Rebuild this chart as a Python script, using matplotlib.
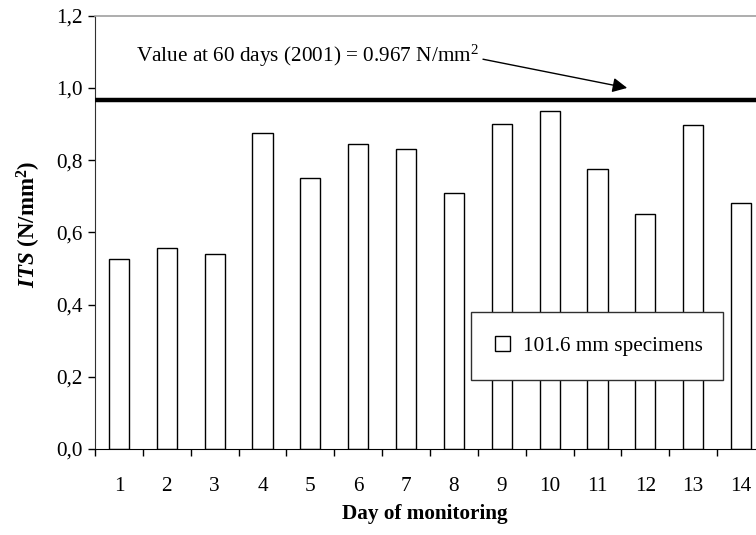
import numpy as np
import matplotlib
matplotlib.use('Agg')
import matplotlib.pyplot as plt

#
# data
#
days = ['1', '2', '3', '4', '5', '6', '7', '8', '9', '10', '11', '12', '13', '14']
its_values = [0.525, 0.556, 0.54, 0.875, 0.75, 0.845, 0.83, 0.71, 0.90, 0.935, 0.775, 0.65, 0.896, 0.68]
ref_value = 0.967  # value at 60 days (2001), N/mm2
series_label = '101.6 mm specimens'
y_ticks = [0.0, 0.2, 0.4, 0.6, 0.8, 1.0, 1.2]

#
# fonts
#
plt.rcParams['font.family'] = ['Liberation Serif', 'DejaVu Serif']
plt.rcParams['mathtext.fontset'] = 'custom'
plt.rcParams['mathtext.rm'] = 'Liberation Serif'
plt.rcParams['mathtext.it'] = 'Liberation Serif:italic:bold'
plt.rcParams['mathtext.bf'] = 'Liberation Serif:bold'
fs = 15.3

fig = plt.figure(figsize=(7.56, 5.35), dpi=100)
# plot area runs a bit past the right edge of the figure
ax = fig.add_axes([95 / 756, 1 - 449 / 535, 670 / 756, 433.3 / 535])

x = np.arange(1, len(days) + 1)
ax.bar(x, its_values, width=0.42, color='white', edgecolor='black', linewidth=1,
       label=series_label, zorder=2)

ax.axhline(ref_value, color='black', lw=3.2, zorder=3)

ax.set_xlim(0.5, len(days) + 0.5)
ax.set_ylim(0, 1.2)

# labels on the bars, tick marks between them
ax.set_xticks(x)
ax.set_xticklabels(days, fontsize=fs)
ax.set_xticks(np.arange(0.5, len(days) + 1), minor=True)
ax.tick_params(axis='x', which='major', length=0, pad=20)
ax.tick_params(axis='x', which='minor', length=5, width=1, direction='out')

ax.set_yticks(y_ticks)
ax.set_yticklabels([f'{v:.1f}'.replace('.', ',') for v in y_ticks], fontsize=fs)
ax.tick_params(axis='y', length=5, width=1, direction='out', pad=4)

ax.spines['top'].set_color('#a0a0a0')
ax.spines['top'].set_linewidth(1.2)
ax.spines['left'].set_color('#303030')
ax.spines['bottom'].set_color('black')
ax.spines['right'].set_visible(False)

ax.set_ylabel(r'$\mathit{ITS}$ $\mathbf{(N/mm^2)}$', fontsize=16.5)
ax.yaxis.set_label_coords((29 - 95) / 670, (449 - 224) / 433.3)
ax.yaxis.label.set_va('center')
ax.set_xlabel('Day of monitoring', fontsize=fs, fontweight='bold')
ax.xaxis.set_label_coords((425 - 95) / 670, (449 - 514) / 433.3)
ax.xaxis.label.set_va('center')

# annotation for the 60 day reference value
ax.text(1.357, 1.089, r'Value at 60 days (2001) = 0.967 N/mm$^2$', fontsize=fs,
        ha='left', va='center')
ax.annotate('', xy=(11.62, 1.0), xytext=(8.607, 1.0795),
            arrowprops=dict(arrowstyle='-|>', mutation_scale=22, lw=1, color='black',
                            shrinkA=0, shrinkB=0))

leg = ax.legend(loc='center', bbox_to_anchor=(0.561, 0.159, 0.376, 0.157), mode='expand',
                borderaxespad=0, fontsize=fs, frameon=True, fancybox=False, borderpad=1.15,
                handlelength=0.7, handleheight=0.7, handletextpad=0.6)
leg.get_frame().set_edgecolor('#303030')
leg.get_frame().set_linewidth(1)
leg.get_frame().set_alpha(1)

fig.savefig('out.png', dpi=100)
